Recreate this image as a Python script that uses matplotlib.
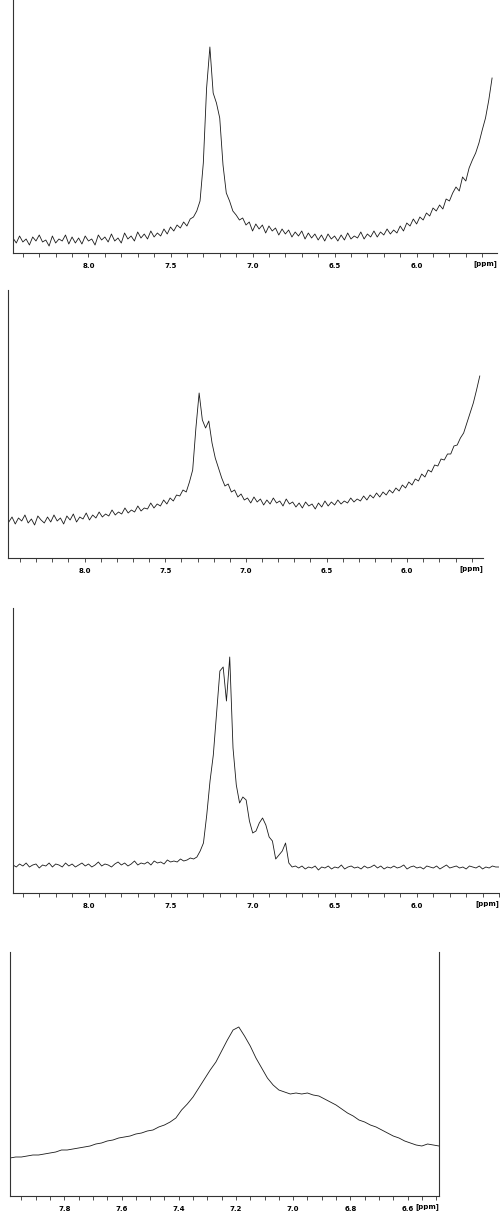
import numpy as np
import matplotlib.pyplot as plt
from matplotlib.ticker import MultipleLocator, FixedLocator, FormatStrFormatter

# Intensita' (altezza sopra l'asse), passo 0.02 ppm
spettro1 = [15, 10, 17, 11, 14, 8, 16, 12, 18, 11,
            13, 7, 17, 10, 14, 12, 18, 9, 16, 10,
            15, 9, 17, 12, 14, 8, 18, 13, 16, 11,
            19, 12, 15, 10, 20, 14, 17, 12, 21, 15,
            19, 14, 22, 16, 20, 17, 24, 19,
            26, 22, 28, 25, 31, 27, 34, 36,
            42, 52, 90, 165, 206, 160, 150, 135, 88, 60,
            52, 42, 38, 33, 35, 28, 31, 22, 29, 24, 28, 20, 27, 22,
            25, 18, 24, 19, 23, 16, 21, 17, 22, 14,
            20, 15, 19, 13, 18, 12, 19, 14, 17, 12,
            18, 13, 20, 14, 17, 15, 21, 14, 19, 16,
            22, 16, 21, 18, 24, 19, 23, 20, 27, 22,
            30, 27, 34, 29, 36, 33, 40, 37, 45, 42,
            48, 44, 54, 52, 60, 66, 62, 76, 72, 85, 93, 100, 110, 123, 135, 153, 175]

spettro2 = [36, 41, 34, 40, 37, 43, 35, 39, 33, 42,
            38, 35, 41, 36, 43, 37, 40, 34, 42, 38,
            44, 36, 41, 39, 45, 38, 43, 40, 46, 41,
            44, 42, 48, 43, 46, 44, 50, 45, 48, 46,
            52, 47, 50, 49, 55, 50, 54, 52,
            58, 54, 60, 57, 63, 62, 68, 66,
            76, 88, 130, 165, 138, 130, 137, 115, 100, 90, 80, 72, 74, 66, 68, 61, 64, 58, 60,
            55, 61, 56, 59, 53,
            58, 54, 60, 55, 57, 52, 59, 54, 56, 51,
            55, 50, 56, 52, 54, 49, 55, 51, 57, 52,
            56, 53, 58, 54, 57, 55, 60, 56, 59, 57,
            62, 58, 63, 60, 65, 61, 66, 63, 68, 65,
            70, 67, 73, 70, 76, 73, 79, 77, 84, 81,
            88, 86, 93, 92, 99, 98, 104, 104, 112, 113,
            120, 125, 135, 145, 155, 168, 182]

spettro3 = [28, 26, 29, 27, 30, 26, 28, 29, 25, 28,
            27, 30, 26, 29, 28, 26, 30, 27, 29, 26,
            28, 30, 27, 29, 26, 28, 31, 27, 29, 28,
            26, 29, 31, 28, 30, 27, 29, 32, 28, 30,
            29, 31, 28, 32, 30, 31, 29, 33, 31, 32,
            31, 34, 32, 33, 35, 34, 36,
            42, 50, 78, 112, 138, 180, 222, 226, 192, 236,
            145, 108, 90, 96, 93, 72, 60, 62, 70, 75,
            68, 56, 52, 34, 38, 42, 50, 30, 26, 27,
            25, 27, 24, 26, 25, 27, 23, 26, 25,
            27, 24, 26, 25, 28, 24, 26, 27, 25, 26,
            24, 27, 25, 26, 28, 25, 27, 24, 26, 25,
            27, 25, 26, 28, 24, 26, 27, 25, 26, 24,
            27, 26, 25, 27, 24, 26, 28, 25, 26, 27,
            25, 26, 24, 27, 26, 25, 27, 24, 26, 25, 27, 26, 26]

spettro4 = [38, 39, 39, 40, 41, 41, 42, 43, 44, 46,
            46, 47, 48, 49, 50, 52, 53, 55, 56, 58,
            59, 60, 62, 63, 65, 66, 69, 71, 74, 78,
            86, 92, 99, 108, 117, 126, 134, 145, 156, 166,
            169, 160, 150, 138, 128, 118, 111, 106, 104, 102,
            103, 102, 103, 101, 100, 97, 94, 91, 87, 83,
            80, 76, 74, 71, 69, 66, 63, 60, 58, 55,
            53, 51, 50, 52, 51, 50]

# etichette dell'asse ppm
etichette_largo = [8.0, 7.5, 7.0, 6.5, 6.0]
etichette_zoom = [7.8, 7.6, 7.4, 7.2, 7.0, 6.8, 6.6]

passo = 0.02


def disegna(fig, rect, valori, inizio, xlim, ylim, etichette, minor, scatola=False):
    ax = fig.add_axes(rect)
    ppm = inizio - passo * np.arange(len(valori))
    ax.plot(ppm, valori, color='#1a1a1a', lw=0.6)
    ax.set_xlim(xlim)
    ax.set_ylim(ylim)
    ax.spines['top'].set_visible(False)
    ax.spines['right'].set_visible(scatola)
    for s in ax.spines.values():
        s.set_color('#333333')
        s.set_linewidth(0.8)
    ax.set_yticks([])
    ax.xaxis.set_major_locator(FixedLocator(etichette))
    ax.xaxis.set_minor_locator(MultipleLocator(minor))
    ax.xaxis.set_major_formatter(FormatStrFormatter('%.1f'))
    ax.tick_params(axis='x', which='both', direction='out', length=3, width=0.6,
                   color='#333333', labelsize=5, pad=4)
    for t in ax.get_xticklabels():
        t.set_fontweight('bold')
    # [ppm] sulla stessa riga delle etichette
    ax.annotate('[ppm]', xy=(1.0, 0.0), xycoords='axes fraction',
                xytext=(0, -7), textcoords='offset pixels',
                ha='right', va='top', fontsize=5, fontweight='bold')
    return ax


fig = plt.figure(figsize=(5, 12.17), dpi=100)
H = 1217.0

# posizioni lette in pixel dalla figura originale
disegna(fig, [13 / 500, 1 - 253 / H, 484 / 500, 253 / H], spettro1, 8.46,
        (8.46, 5.51), (0, 253), etichette_largo, 0.1)
disegna(fig, [8 / 500, 1 - 558 / H, 475 / 500, 268 / H], spettro2, 8.47,
        (8.475, 5.53), (0, 268), etichette_largo, 0.1)
disegna(fig, [13 / 500, 1 - 893 / H, 486 / 500, 285 / H], spettro3, 8.46,
        (8.46, 5.50), (0, 285), etichette_largo, 0.1)
disegna(fig, [10 / 500, 1 - 1196 / H, 429 / 500, 244 / H], spettro4, 7.99,
        (7.99, 6.49), (0, 244), etichette_zoom, 0.05, scatola=True)

fig.savefig('out.png', dpi=100)
